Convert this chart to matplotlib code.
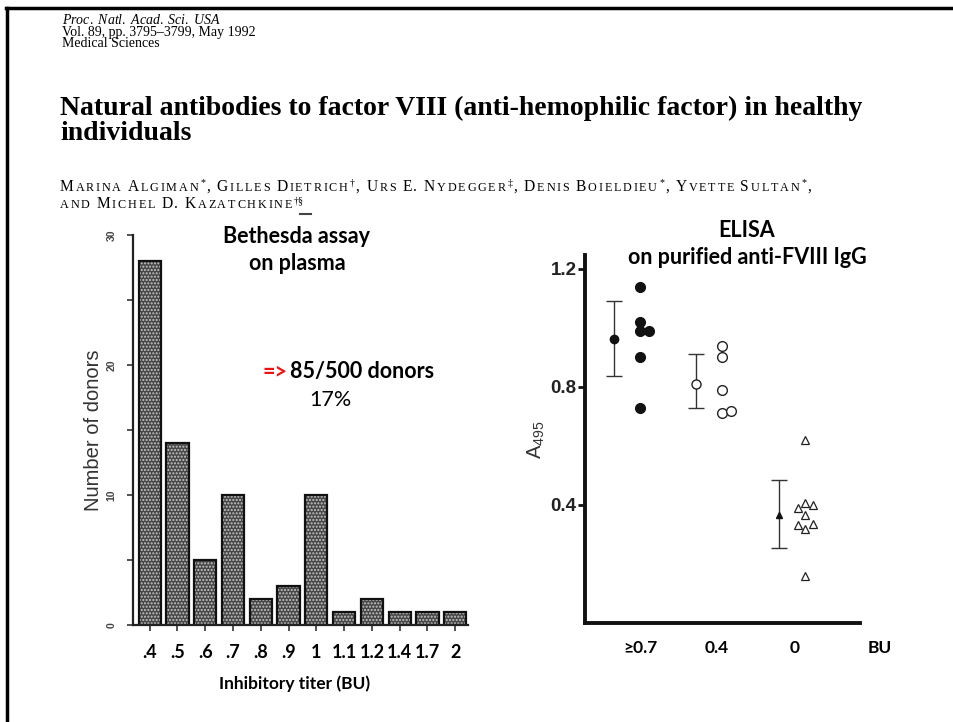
import numpy as np
import matplotlib
matplotlib.use("Agg")
import matplotlib.pyplot as plt
from matplotlib.lines import Line2D

W, H = 954, 722

# ---- data ----
titers = ['.4', '.5', '.6', '.7', '.8', '.9', '1', '1.1', '1.2', '1.4', '1.7', '2']
donors = [28, 14, 5, 10, 2, 3, 10, 1, 2, 1, 1, 1]

groups = ['≥0.7', '0.4', '0']
hi_y = [1.14, 1.02, 0.99, 0.99, 0.90, 0.73]
hi_dx = [0, 0, 0, 0.11, 0, 0]
mid_y = [0.94, 0.90, 0.79, 0.71, 0.72]
mid_dx = [0, 0, 0, 0, 0.1]
neg_y = [0.62, 0.405, 0.40, 0.39, 0.365, 0.333, 0.336, 0.32, 0.16]
neg_dx = [0, 0, 0.1, -0.09, 0, -0.09, 0.1, 0, 0]
means = [0.963, 0.81, 0.366]
err_lo = [0.837, 0.73, 0.254]
err_hi = [1.09, 0.91, 0.485]

SERIF = 'Liberation Serif'
SANS = 'Liberation Sans'
SLIDE = 'Lato'

plt.rcParams['mathtext.fontset'] = 'custom'
plt.rcParams['mathtext.rm'] = SERIF
plt.rcParams['mathtext.it'] = SERIF + ':italic'

fig = plt.figure(figsize=(W / 100, H / 100), dpi=100)
fig.patch.set_facecolor('white')


def px(x, y):
    return x / W, 1 - y / H


# slide border (top and left edges)
fig.add_artist(Line2D([6 / W, 1], [1 - 8 / H] * 2, color='black', lw=2.5))
fig.add_artist(Line2D([7 / W] * 2, [0, 1 - 8 / H], color='black', lw=2.5))

# ---- paper header ----
header = ('$\\mathit{Proc.\\ Natl.\\ Acad.\\ Sci.\\ USA}$\n'
          'Vol. 89, pp. 3795\u20133799, May 1992\nMedical Sciences')
fig.text(*px(62, 13), header, family=SERIF, fontsize=10, va='top', linespacing=0.86)

fig.text(*px(60, 96), 'Natural antibodies to factor VIII (anti-hemophilic factor) in healthy\n'
         'individuals', family=SERIF, weight='bold', fontsize=20, va='top',
         linespacing=1.0)


def small_caps(x, y, parts, size, sup_raise, track=1.8):
    r = fig.canvas.get_renderer()
    for text, kind in parts:
        if kind == 'sup':
            t = fig.text(*px(x + 0.5, y - sup_raise), text, family=SERIF,
                         fontsize=size * 0.64, va='baseline')
            x += t.get_window_extent(r).width + 1.5
            continue
        for ch in text:
            if ch == ' ':
                x += size * 0.3 * 100 / 72
                continue
            low = ch.islower()
            t = fig.text(*px(x, y), ch.upper() if low else ch, family=SERIF,
                         fontsize=size * 0.78 if low else size, va='baseline')
            x += t.get_window_extent(r).width + track


auth_size = 11.2
small_caps(60, 191, [('Marina Algiman', ''), ('*', 'sup'), (', Gilles Dietrich', ''),
                     ('\u2020', 'sup'), (', Urs E. Nydegger', ''), ('\u2021', 'sup'),
                     (', Denis Boieldieu', ''), ('*', 'sup'), (', Yvette Sultan', ''),
                     ('*', 'sup'), (',', '')], auth_size, 5.5)
small_caps(60, 208, [('and Michel D. Kazatchkine', ''), ('\u2020\u00a7', 'sup')],
           auth_size, 4.5)
fig.add_artist(Line2D([300 / W, 311 / W], [1 - 214 / H] * 2, color='#444', lw=1.5))

# ---- left panel: Bethesda histogram ----
axL = fig.add_axes([133 / W, 97 / H, 335 / W, 390 / H])
x = np.arange(len(donors))
axL.bar(x, donors, width=0.8, color='#474747', edgecolor='#c8c8c8', hatch='.....',
        linewidth=0)
axL.bar(x, donors, width=0.8, fill=False, edgecolor='#111111', linewidth=1.6)
axL.set_xlim(-0.6, 11.46)
axL.set_ylim(0, 30)
for s in ['top', 'right']:
    axL.spines[s].set_visible(False)
for s in ['left', 'bottom']:
    axL.spines[s].set_linewidth(1.6)
    axL.spines[s].set_color('#222222')
axL.set_yticks([0, 10, 20, 30])
axL.set_yticks([5, 15, 25], minor=True)
axL.set_yticklabels(['0', '10', '20', '30'], rotation=90, va='center', fontsize=7.5,
                    fontweight='bold', color='#444444', family=SANS)
axL.tick_params(axis='y', which='both', length=4, width=1.2, color='#333333', pad=8)
axL.set_xticks(x)
axL.set_xticklabels(titers, family=SLIDE, fontweight='bold', fontsize=13)
axL.tick_params(axis='x', length=4, width=1.2, color='#333333', pad=10)
axL.set_ylabel('Number of donors', family=SANS, fontsize=14.5, color='#333333')
axL.yaxis.set_label_coords(-0.09, 0.5)

fig.text(*px(297, 243), 'Bethesda assay', family=SLIDE, weight='bold', fontsize=15.5,
         ha='center', va='baseline')
fig.text(*px(297, 270), 'on plasma', family=SLIDE, weight='bold', fontsize=15.5,
         ha='center', va='baseline')
fig.text(*px(262, 378), '=>', family=SLIDE, weight='bold', fontsize=15.5, color='#ee1111',
         va='baseline')
fig.text(*px(290, 378), '85/500 donors', family=SLIDE, weight='bold', fontsize=15.5,
         va='baseline')
fig.text(*px(330, 406), '17%', family=SLIDE, fontsize=15.5, ha='center', va='baseline')
fig.text(*px(295, 689), 'Inhibitory titer (BU)', family=SLIDE, weight='bold', fontsize=12.5,
         ha='center', va='baseline')

# ---- right panel: ELISA ----
axR = fig.add_axes([585 / W, 99 / H, 275 / W, 368 / H])
axR.set_xlim(1 / 3, 11 / 3)
axR.set_ylim(0, 1.247)
for s in ['top', 'right']:
    axR.spines[s].set_visible(False)
for s in ['left', 'bottom']:
    axR.spines[s].set_linewidth(2.8)
    axR.spines[s].set_color('#111111')

axR.plot(1 + np.array(hi_dx), hi_y, 'o', ms=7, color='#111111', ls='none')
axR.plot(2 + np.array(mid_dx), mid_y, 'o', ms=7, mfc='white', mec='#222222', mew=1.0,
         ls='none')
axR.plot(3 + np.array(neg_dx), neg_y, '^', ms=5.5, mfc='white', mec='#222222', mew=0.9,
         ls='none')

mx = np.arange(1, 4) - 0.32
lo = np.array(means) - np.array(err_lo)
hi = np.array(err_hi) - np.array(means)
axR.errorbar(mx, means, yerr=[lo, hi], fmt='none', ecolor='#333333', elinewidth=1.0,
             capsize=6, capthick=1.0)
axR.plot(mx[0], means[0], 'o', ms=6, color='#111111')
axR.plot(mx[1], means[1], 'o', ms=6.5, mfc='white', mec='#222222', mew=1.0)
axR.plot(mx[2], means[2], '^', ms=5, color='#111111')

axR.set_yticks([0.4, 0.8, 1.2])
axR.set_yticklabels(['0.4', '0.8', '1.2'], family=SANS, fontweight='bold', fontsize=13.5,
                    color='#222222')
axR.tick_params(axis='y', length=5, width=2, color='#111111', pad=1)
axR.set_xticks([1, 1.93, 2.88])
axR.set_xticklabels(groups, family=SLIDE, fontweight='bold', fontsize=12.5)
axR.tick_params(axis='x', length=0, pad=12)
axR.set_ylabel('$\\mathregular{A_{495}}$', family=SANS, fontsize=14.5, color='#333333')
axR.yaxis.set_label_coords(-0.138, 0.497)
fig.text(*px(880, 653), 'BU', family=SLIDE, weight='bold', fontsize=12.5, ha='center',
         va='baseline')

fig.text(*px(747, 237), 'ELISA', family=SLIDE, weight='bold', fontsize=15.5, ha='center',
         va='baseline')
fig.text(*px(747, 264), 'on purified anti-FVIII IgG', family=SLIDE, weight='bold',
         fontsize=15.5, ha='center', va='baseline')

fig.savefig('out.png', dpi=100)
